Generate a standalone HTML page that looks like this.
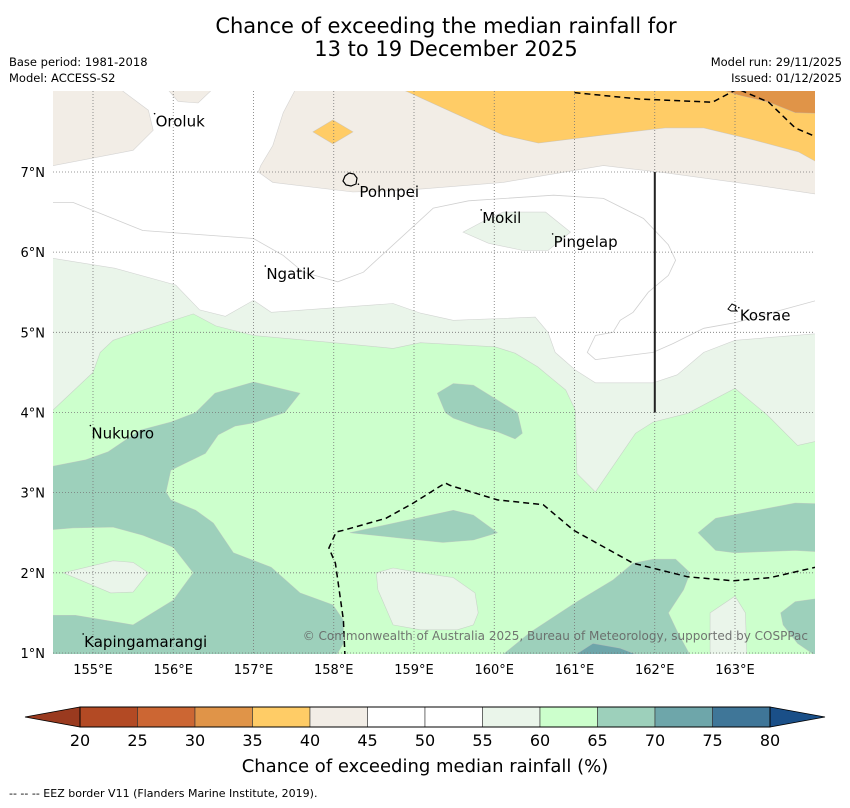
<!DOCTYPE html>
<html><head><meta charset="utf-8">
<style>
html,body{margin:0;padding:0;background:#fff;}
body{width:850px;height:804px;overflow:hidden;font-family:"DejaVu Sans","Liberation Sans",sans-serif;}
svg text{font-family:"DejaVu Sans","Liberation Sans",sans-serif;}
</style></head>
<body>
<svg id="chart" width="850" height="804" viewBox="0 0 850 804" xmlns="http://www.w3.org/2000/svg">
  <rect x="0" y="0" width="850" height="804" fill="#fff"/>
  <text x="446" y="33" font-size="21" text-anchor="middle" fill="#000">Chance of exceeding the median rainfall for</text>
  <text x="446" y="56" font-size="21" text-anchor="middle" fill="#000">13 to 19 December 2025</text>
  <text x="9" y="66" font-size="11.5" fill="#000">Base period: 1981-2018</text>
  <text x="9" y="82" font-size="11.5" fill="#000">Model: ACCESS-S2</text>
  <text x="842" y="66" font-size="11.5" text-anchor="end" fill="#000">Model run: 29/11/2025</text>
  <text x="842" y="82" font-size="11.5" text-anchor="end" fill="#000">Issued: 01/12/2025</text>
  <defs><clipPath id="plotclip"><rect x="53" y="91" width="762" height="563"/></clipPath></defs>
  <g id="map" clip-path="url(#plotclip)"></g>
  <g id="overlay"></g>
  <g id="cbar"></g>
  <text x="425" y="772" font-size="18" text-anchor="middle" fill="#000">Chance of exceeding median rainfall (%)</text>
  <text x="9" y="797" font-size="11" fill="#000">--  --  -- EEZ border V11 (Flanders Marine Institute, 2019).</text>
</svg>
<script>
// ---- axis definitions ----
const lonTicks = [155,156,157,158,159,160,161,162,163];
const latTicks = [1,2,3,4,5,6,7];
const cbarLevels = [20,25,30,35,40,45,50,55,60,65,70,75,80];
const cbarColors = ["#b34a24","#cc6633","#e09448","#ffcc66","#f2ede6","#ffffff","#ffffff","#eaf5ea","#ccffcc","#9dd0bb","#6ea6aa","#3f7698"];

// ---- contour regions (lon, lat) painted in order ----
const paleGreenRegion = [[154.5,4.03],[155,4.5],[155.09,4.75],[155.25,4.9],[155.54,5.0],[156.25,5.23],[156.53,5.08],[157,4.96],[158,4.87],[158.74,4.8],[159.08,4.87],[160.01,4.82],[160.26,4.74],[160.54,4.57],[160.89,4.28],[161.01,4.03],[161.03,3.24],[161.26,3.01],[161.76,3.74],[161.98,3.88],[162.41,3.99],[163,4.3],[163.4,3.97],[163.78,3.59],[164.1,3.66],[164.1,8.1],[154.4,8.1],[154.4,4.03]];
const whiteRegion = [[154.4,5.94],[155.27,5.8],[156.03,5.59],[156.33,5.28],[156.65,5.2],[157,5.4],[157.22,5.25],[158.74,5.36],[159.08,5.24],[159.49,5.15],[160.51,5.19],[160.67,5.0],[160.76,4.75],[161.01,4.53],[161.26,4.37],[161.98,4.37],[162.28,4.47],[162.61,4.75],[163,4.9],[164.1,4.99],[164.1,8.1],[154.4,8.1]];
const beigeMain = [[157.56,8.1],[157.37,7.74],[157.24,7.33],[157.09,7.08],[157.06,7.0],[157.24,6.87],[158.24,6.75],[158.87,6.77],[160.11,6.87],[161.36,7.08],[162.13,6.99],[163.23,6.84],[164.1,6.71],[164.1,8.1]];
const beigeTopLeft = [[154.4,8.1],[154.4,7.06],[155.5,7.27],[155.75,7.52],[155.69,7.77],[155.25,8.1]];
const beigeBump = [[155.87,8.1],[156.06,7.88],[156.31,7.86],[156.56,8.1]];
const orangeRegion = [[158.7,8.1],[159.49,7.74],[160.11,7.46],[160.55,7.36],[161.36,7.46],[162.13,7.55],[162.61,7.55],[163.23,7.4],[163.79,7.25],[164.1,7.08],[164.1,8.1]];
const darkOrangeRegion = [[162.6,8.1],[163.04,7.96],[163.42,7.87],[163.75,7.74],[164.1,7.73],[164.1,8.1]];
const orangeDiamond = [[157.74,7.5],[157.99,7.65],[158.24,7.5],[157.99,7.35]];
const mokilPale = [[159.61,6.25],[159.93,6.42],[160.11,6.5],[160.64,6.5],[160.95,6.25],[160.67,6.02],[160.36,6.02],[159.93,6.11]];
const tealA = [[154.4,3.31],[154.91,3.41],[155.19,3.51],[155.59,3.78],[155.97,3.88],[156.28,4.0],[156.52,4.24],[157,4.38],[157.58,4.24],[157.39,4.0],[157,3.87],[156.77,3.83],[156.56,3.72],[156.4,3.49],[155.97,3.28],[155.91,3.01],[155.97,2.91],[156.28,2.78],[156.5,2.62],[156.75,2.25],[157.22,2.07],[157.58,1.75],[157.99,1.6],[158.12,1.41],[158.12,1.12],[157.99,0.9],[154.4,0.9]];
const greenHole = [[154.4,2.53],[154.75,2.56],[155.25,2.57],[155.62,2.47],[156.0,2.32],[156.25,2.0],[156.0,1.66],[155.5,1.35],[154.78,1.47],[154.4,1.47]];
const paleIslandLeft = [[154.63,2.0],[155.25,2.15],[155.5,2.13],[155.69,2.0],[155.5,1.76],[155.22,1.75]];
const tealB = [[159.29,4.24],[159.49,4.36],[159.74,4.34],[160.29,4.0],[160.35,3.74],[160.26,3.67],[160.04,3.76],[159.8,3.82],[159.49,3.93],[159.39,4.0]];
const tealC = [[158.2,2.5],[159.49,2.78],[159.74,2.72],[160.04,2.5],[159.74,2.41],[159.36,2.38],[158.87,2.43]];
const tealD = [[160.01,0.9],[160.45,1.26],[161.03,1.64],[161.48,1.91],[161.73,2.12],[161.98,2.17],[162.26,2.17],[162.44,2.0],[162.36,1.79],[162.17,1.5],[162.29,1.25],[162.48,0.9]];
const darkTealD = [[160.89,0.9],[161.23,1.12],[161.57,1.06],[161.98,0.9]];
const tealE = [[162.54,2.5],[162.76,2.68],[163.75,2.87],[164.1,2.86],[164.1,2.26],[163.75,2.28],[163,2.25],[162.76,2.28]];
const tealF = [[163.57,1.5],[163.75,1.64],[164.1,1.69],[164.1,0.9],[163.78,1.12],[163.6,1.35]];
const paleSpotRight = [[162.69,1.5],[163,1.71],[163.13,1.5],[163.15,0.9],[162.69,0.9]];
const paleBottomCenter = [[158.53,2.0],[158.74,2.06],[159.08,2.0],[159.49,1.94],[159.76,1.75],[159.8,1.5],[159.74,1.35],[159.54,1.29],[159.08,1.29],[158.74,1.35],[158.55,1.79]];
const whiteContourLine = [[154.4,6.62],[154.75,6.62],[155.62,6.27],[157,6.17],[157.37,5.96],[157.62,5.75],[158.05,5.63],[158.37,5.75],[158.74,6.09],[159.24,6.55],[159.68,6.64],[160.74,6.71],[161.36,6.67],[161.86,6.42],[162.17,6.09],[162.26,5.9],[162.17,5.71],[161.92,5.5],[161.73,5.25],[161.57,5.15],[161.48,5.0],[161.26,4.96],[161.16,4.75],[161.26,4.66],[161.98,4.75],[162.23,4.86],[162.61,5.05],[163,5.12],[164.1,5.42]];
const eezSouth = [[158.14,0.95],[158.12,1.41],[158.02,2.12],[157.94,2.31],[158.03,2.51],[158.12,2.53],[158.65,2.68],[158.99,2.87],[159.39,3.12],[159.45,3.09],[160.04,2.91],[160.61,2.85],[160.99,2.53],[161.73,2.12],[162.41,1.95],[162.98,1.9],[163.44,1.94],[164.05,2.08]];
const eezNorthA = [[161.0,7.99],[161.8,7.91],[162.72,7.87],[163.0,8.02]];
const eezNorthB = [[163.07,8.02],[163.42,7.87],[163.75,7.55],[164.05,7.42]];
const boundaryLine = [[162,7.0],[162,4.0]];
const islandNames = ["Oroluk","Pohnpei","Mokil","Pingelap","Ngatik","Kosrae","Nukuoro","Kapingamarangi"];
const islandLon = [155.78,158.32,159.85,160.74,157.16,163.06,154.98,154.89];
const islandLat = [7.64,6.76,6.44,6.14,5.74,5.22,3.75,1.15];

// ---- axis functions ----
function xs(lon){ return 93 + (lon - 155) * 80.25; }
function ys(lat){ return 653 - (lat - 1) * 80.17; }
const NS = "http://www.w3.org/2000/svg";
function mk(tag, attrs, parent){
  const e = document.createElementNS(NS, tag);
  for (const k in attrs) e.setAttribute(k, attrs[k]);
  parent.appendChild(e);
  return e;
}
function pts(arr){ return arr.map(p => xs(p[0]).toFixed(1) + "," + ys(p[1]).toFixed(1)).join(" "); }

const map = document.getElementById("map");
const overlay = document.getElementById("overlay");

const base = mk("rect", {x:53, y:91, width:762, height:563, fill:"#ccffcc"}, map);



const regions = [
  [paleGreenRegion, "#eaf5ea", "region-55-60"],
  [whiteRegion, "#ffffff", "region-45-55"],
  [beigeMain, "#f2ede6", "region-40-45-main"],
  [beigeTopLeft, "#f2ede6", "region-40-45-northwest"],
  [beigeBump, "#f2ede6", "region-40-45-bump"],
  [orangeRegion, "#ffcc66", "region-35-40"],
  [darkOrangeRegion, "#e09448", "region-30-35"],
  [orangeDiamond, "#ffcc66", "region-35-40-diamond"],
  [mokilPale, "#eaf5ea", "region-55-60-mokil"],
  [tealA, "#9dd0bb", "region-65-70-west"],
  [greenHole, "#ccffcc", "region-60-65-southwest"],
  [paleIslandLeft, "#eaf5ea", "region-55-60-southwest"],
  [tealB, "#9dd0bb", "region-65-70-central"],
  [tealC, "#9dd0bb", "region-65-70-tongue"],
  [tealD, "#9dd0bb", "region-65-70-south"],
  [darkTealD, "#6ea6aa", "region-70-75-south"],
  [tealE, "#9dd0bb", "region-65-70-east"],
  [tealF, "#9dd0bb", "region-65-70-southeast"],
  [paleSpotRight, "#eaf5ea", "region-55-60-southeast"],
  [paleBottomCenter, "#eaf5ea", "region-55-60-south"]
];
regions.forEach(r => {
  const p = mk("polygon", {points: pts(r[0]), fill: r[1], stroke: "#bdbdbd", "stroke-width": 0.6, "stroke-opacity": 0.6}, map);
  
  
});
const wl = mk("polyline", {points: pts(whiteContourLine), fill:"none", stroke:"#d0d0d0", "stroke-width":0.8}, map);



lonTicks.forEach(v => {
  const l = mk("line", {x1: xs(v), x2: xs(v), y1: 91, y2: 654, stroke:"#777", "stroke-width":0.8, "stroke-dasharray":"1,2"}, map);
  
  
});
latTicks.forEach(v => {
  const l = mk("line", {x1: 53, x2: 815, y1: ys(v), y2: ys(v), stroke:"#777", "stroke-width":0.8, "stroke-dasharray":"1,2"}, map);
  
  
});

[[eezSouth,"eez-border-south"],[eezNorthA,"eez-border-north"],[eezNorthB,"eez-border-northeast"]].forEach(e => {
  const l = mk("polyline", {points: pts(e[0]), fill:"none", stroke:"#000", "stroke-width":1.5, "stroke-dasharray":"6,4"}, map);
  
  
});
const bl = mk("polyline", {points: pts(boundaryLine), fill:"none", stroke:"#222", "stroke-width":2}, map);



const cp = mk("text", {x: 808, y: 640, "font-size": 12, "text-anchor":"end", fill:"#666", "fill-opacity":0.9}, map);
cp.textContent = "© Commonwealth of Australia 2025, Bureau of Meteorology, supported by COSPPac";



const pohn = mk("path", {d: "M345,176 l4,-3 l5,1 l3,4 l-1,6 l-5,2 l-5,-1 l-3,-4 z", fill:"none", stroke:"#000", "stroke-width":1.2}, map);


const kos = mk("path", {d: "M728,309 l4,-5 l4,2 l-1,3 l2,2 l-6,0 z", fill:"none", stroke:"#000", "stroke-width":1}, map);



islandNames.forEach((n, i) => {
  const tx = xs(islandLon[i]), ty = ys(islandLat[i]) + 3;
  const d = mk("circle", {cx: tx - 1, cy: ty - 10, r: 0.8, fill:"#000"}, overlay);
  
  
  const t = mk("text", {x: tx, y: ty + 3, "font-size": 15, fill:"#000"}, overlay);
  t.textContent = n;
  
  
});

lonTicks.forEach(v => {
  const t = mk("text", {x: xs(v), y: 674, "font-size": 13, "text-anchor":"middle", fill:"#000"}, overlay);
  t.textContent = v + "°E";
  
  
});
latTicks.forEach(v => {
  const t = mk("text", {x: 45, y: ys(v) + 5, "font-size": 13, "text-anchor":"end", fill:"#000"}, overlay);
  t.textContent = v + "°N";
  
  
});

const cb = document.getElementById("cbar");
const CB0 = 80, CB1 = 770, CBT = 707, CBB = 727;
function cx(v){ return CB0 + (v - 20) / 60 * (CB1 - CB0); }
const lt = mk("polygon", {points: `25,${(CBT+CBB)/2} ${CB0},${CBT} ${CB0},${CBB}`, fill:"#9a3a1f", stroke:"#000", "stroke-width":0.8}, cb);


const rt = mk("polygon", {points: `825,${(CBT+CBB)/2} ${CB1},${CBT} ${CB1},${CBB}`, fill:"#1a4f88", stroke:"#000", "stroke-width":0.8}, cb);


cbarColors.forEach((c, i) => {
  const r = mk("rect", {x: cx(cbarLevels[i]), y: CBT, width: cx(cbarLevels[i+1]) - cx(cbarLevels[i]), height: CBB - CBT, fill: c, stroke:"#333", "stroke-width":0.6}, cb);
  
  
});
const outline = mk("rect", {x: CB0, y: CBT, width: CB1 - CB0, height: CBB - CBT, fill:"none", stroke:"#000", "stroke-width":1}, cb);


cbarLevels.forEach(v => {
  const t = mk("text", {x: cx(v), y: 746, "font-size": 16, "text-anchor":"middle", fill:"#000"}, cb);
  t.textContent = v;
  
  
});
</script>
</body></html>
